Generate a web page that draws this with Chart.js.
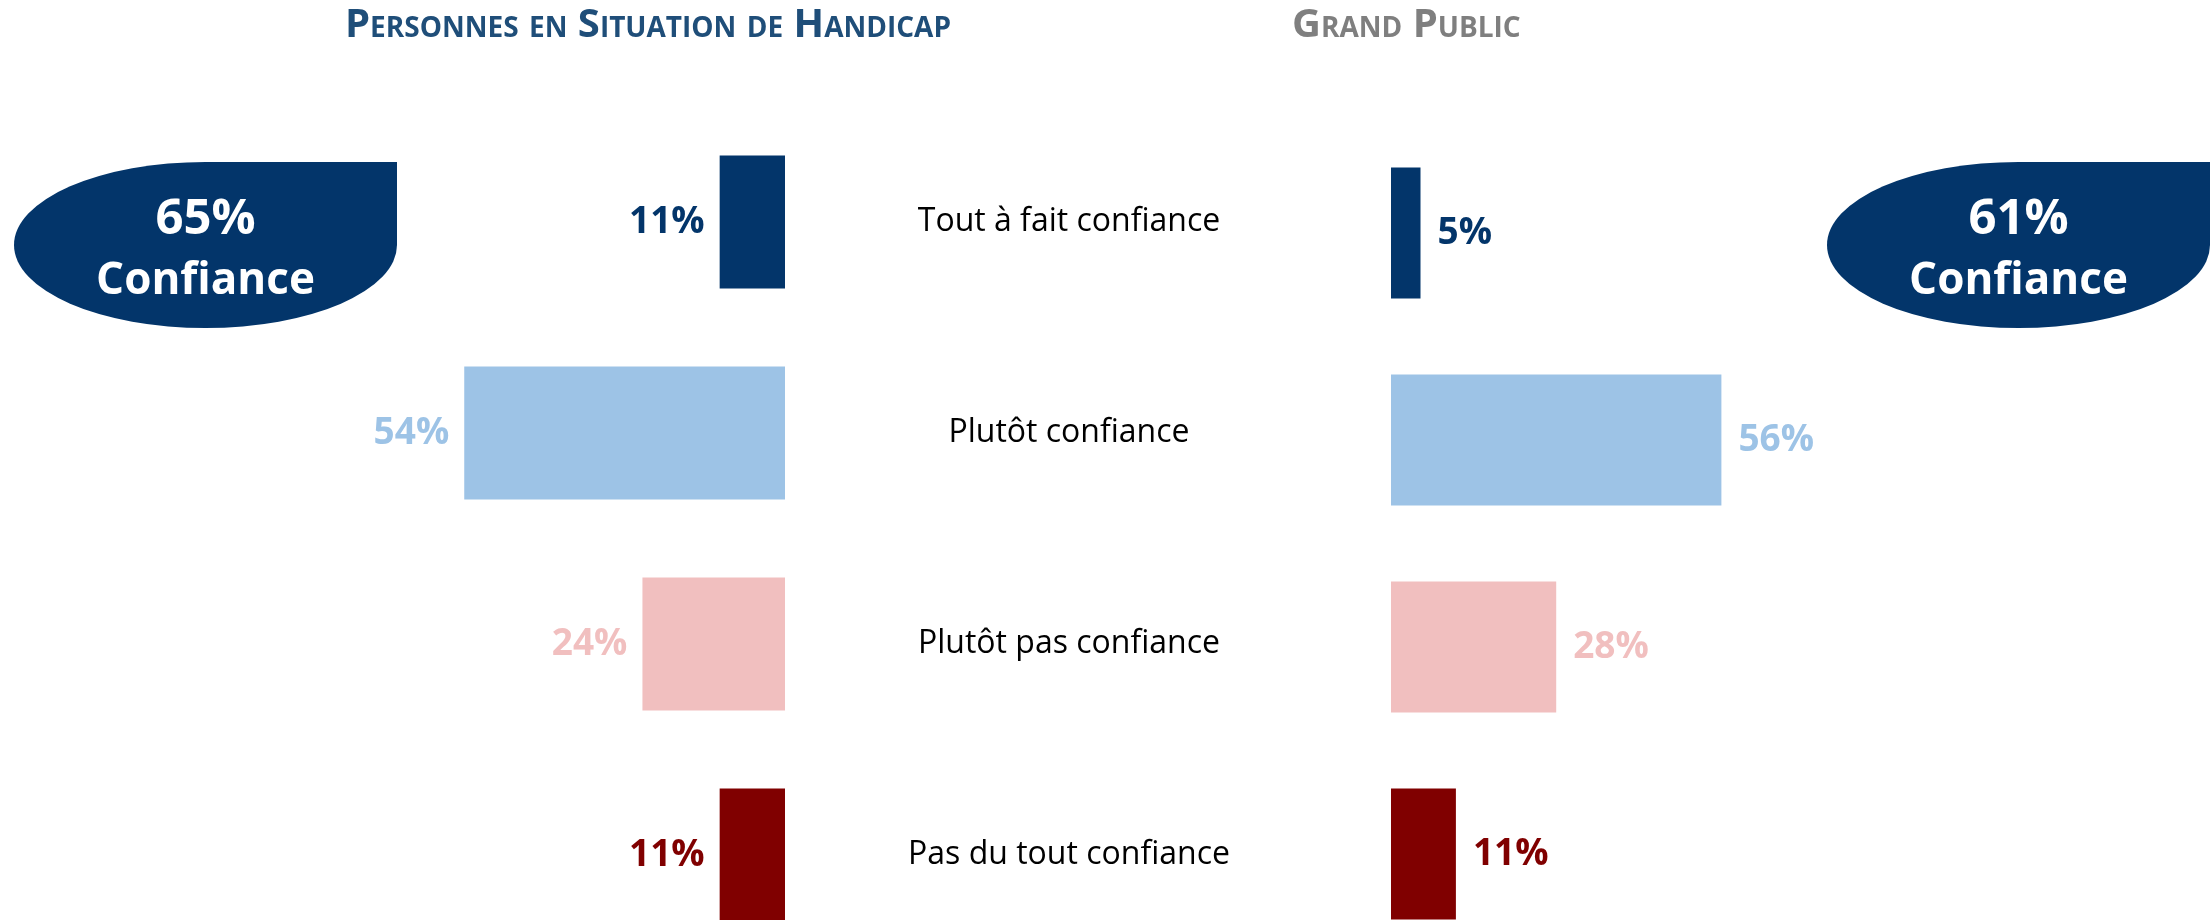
<!DOCTYPE html>
<html>
<head>
<meta charset="utf-8">
<script src="https://cdn.jsdelivr.net/npm/chart.js@4.4.0/dist/chart.umd.min.js"></script>
<style>
html, body { margin: 0; padding: 0; background: #fff; overflow: hidden; width: 2210px; height: 920px; }
canvas { position: absolute; left: 0; top: 0; }
</style>
</head>
<body>
<canvas id="leftChart" width="2210" height="980"></canvas>
<canvas id="rightChart" width="2210" height="980"></canvas>
<script>
// data
var categories = ['Tout à fait confiance', 'Plutôt confiance', 'Plutôt pas confiance', 'Pas du tout confiance'];
var handicapValues = [11, 54, 24, 11];
var publicValues = [5, 56, 28, 11];
var panelTitles = ['Personnes en Situation de Handicap', 'Grand Public'];
var badgeValues = [65, 61];
var badgeText = 'Confiance';

var barColors = ['#03356a', '#9dc3e6', '#f1bfbf', '#800000'];
var FONT = '"Open Sans", "Noto Sans", sans-serif';

function drawBadge(ctx, cx, cy, rx, ry, value) {
    ctx.save();
    ctx.fillStyle = '#03356a';
    ctx.beginPath();
    ctx.moveTo(cx, cy - ry);
    ctx.lineTo(cx + rx, cy - ry);
    ctx.lineTo(cx + rx, cy);
    ctx.ellipse(cx, cy, rx, ry, 0, 0, Math.PI * 1.5);
    ctx.closePath();
    ctx.fill();
    ctx.fillStyle = '#fff';
    ctx.textAlign = 'center';
    ctx.textBaseline = 'middle';
    ctx.font = 'bold 49px ' + FONT;
    ctx.fillText(value + '%', cx, cy - 25);
    ctx.font = 'bold 44px ' + FONT;
    ctx.fillText(badgeText, cx, cy + 36);
    ctx.restore();
}

function drawTitle(ctx, text, x, color) {
    ctx.save();
    ctx.font = 'small-caps bold 40px ' + FONT;
    ctx.fillStyle = color;
    ctx.textAlign = 'left';
    ctx.textBaseline = 'middle';
    ctx.fillText(text, x, 26);
    ctx.restore();
}

// value labels next to each bar, on its outer end
var valueLabels = {
    id: 'valueLabels',
    afterDatasetsDraw: function(chart, args, opts) {
        var ctx = chart.ctx;
        var meta = chart.getDatasetMeta(0);
        var values = chart.data.datasets[0].data;
        ctx.save();
        ctx.font = 'bold 37px ' + FONT;
        ctx.textBaseline = 'middle';
        meta.data.forEach(function(bar, i) {
            ctx.fillStyle = barColors[i];
            if (opts.side === 'left') {
                ctx.textAlign = 'right';
                ctx.fillText(values[i] + '%', bar.x - 15, bar.y);
            } else {
                ctx.textAlign = 'left';
                ctx.fillText(values[i] + '%', bar.x + 17, bar.y);
            }
        });
        ctx.restore();
    }
};

var decorations = {
    id: 'decorations',
    afterDraw: function(chart, args, opts) {
        var ctx = chart.ctx;
        if (opts.side === 'left') {
            drawTitle(ctx, panelTitles[0], 345, '#1f4e79');
            drawBadge(ctx, 205.5, 245, 191.5, 83, badgeValues[0]);
        } else {
            drawTitle(ctx, panelTitles[1], 1292, '#7f7f7f');
            drawBadge(ctx, 2018.5, 245, 191.5, 83, badgeValues[1]);
        }
    }
};

// category labels are centred between the two panels
var labelFont = { family: FONT, size: 32 };
var m = document.createElement('canvas').getContext('2d');
m.font = '32px ' + FONT;
var widest = Math.max.apply(null, categories.map(function(c) { return m.measureText(c).width; }));
var labelPad = 284 - widest / 2;

Chart.defaults.font.family = FONT;

new Chart(document.getElementById('leftChart'), {
    type: 'bar',
    data: {
        labels: categories,
        datasets: [{
            data: handicapValues,
            backgroundColor: barColors,
            categoryPercentage: 1,
            barPercentage: 0.63
        }]
    },
    options: {
        indexAxis: 'y',
        responsive: false,
        animation: false,
        layout: { padding: { left: 191, right: 857, top: 116.5, bottom: 19.5 } },
        plugins: {
            legend: { display: false },
            tooltip: { enabled: false },
            valueLabels: { side: 'left' },
            decorations: { side: 'left' }
        },
        scales: {
            x: { display: false, reverse: true, min: 0, max: 100 },
            y: {
                position: 'right',
                grid: { display: false, drawTicks: false },
                border: { display: false },
                ticks: { color: '#000', font: labelFont, crossAlign: 'center', padding: labelPad },
                afterFit: function(scale) {
                    scale.width = 568;
                    scale.paddingTop = 0;
                    scale.paddingBottom = 0;
                }
            }
        }
    },
    plugins: [valueLabels, decorations]
});

new Chart(document.getElementById('rightChart'), {
    type: 'bar',
    data: {
        labels: categories,
        datasets: [{
            data: publicValues,
            backgroundColor: barColors,
            categoryPercentage: 1,
            barPercentage: 0.633
        }]
    },
    options: {
        indexAxis: 'y',
        responsive: false,
        animation: false,
        layout: { padding: { left: 1391, right: 229, top: 129.5, bottom: 22.5 } },
        plugins: {
            legend: { display: false },
            tooltip: { enabled: false },
            valueLabels: { side: 'right' },
            decorations: { side: 'right' }
        },
        scales: {
            x: { display: false, min: 0, max: 100 },
            y: { display: false }
        }
    },
    plugins: [valueLabels, decorations]
});
</script>
</body>
</html>
